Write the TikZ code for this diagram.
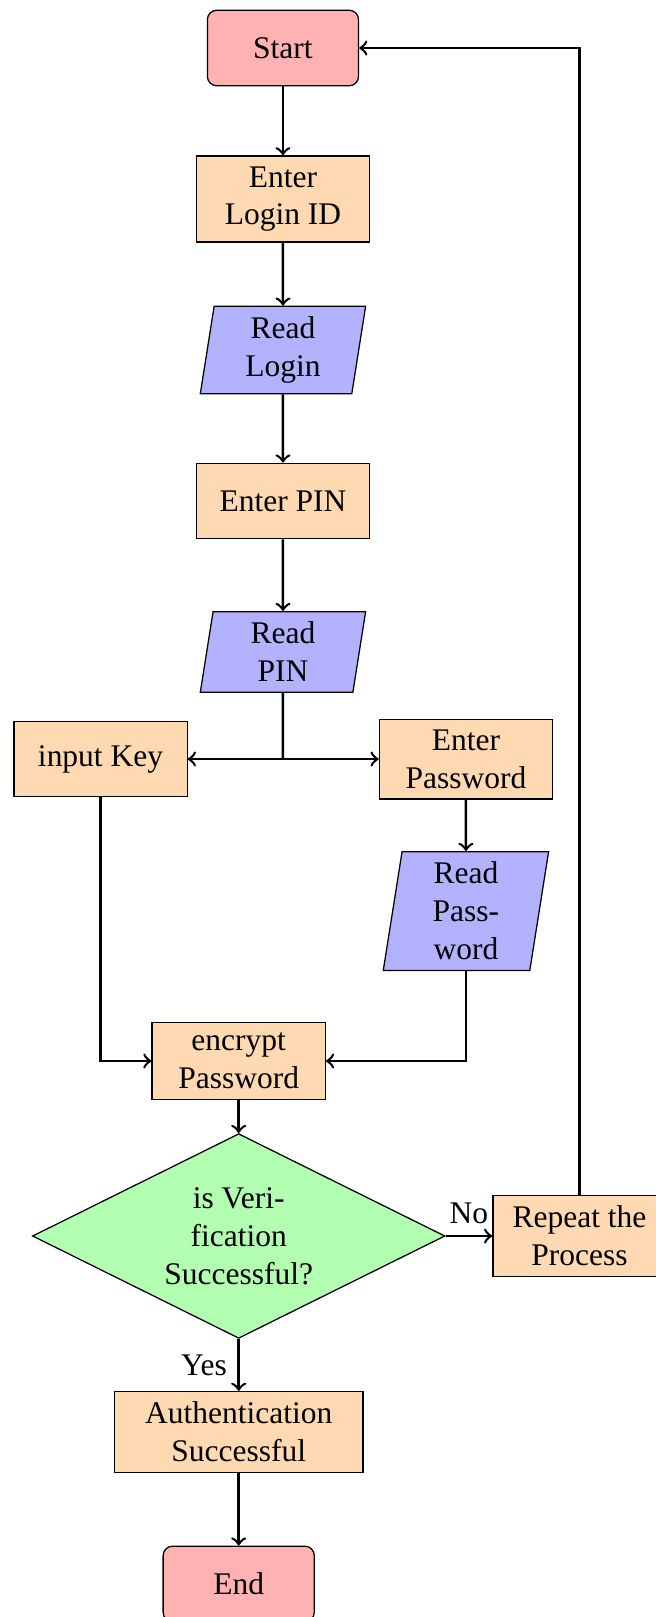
\documentclass[tikz,border=0pt]{standalone}
\usepackage{fontspec}
\setmainfont{Liberation Serif}
\usetikzlibrary{positioning, shapes.geometric}

\tikzset{
  startstop/.style={rectangle, draw, rounded corners=3pt, fill=red!30, minimum width=48pt, minimum height=24pt},
  process/.style={rectangle, draw, fill=orange!30, minimum width=55pt, minimum height=24pt},
  io/.style={trapezium, trapezium left angle=81, trapezium right angle=99, trapezium stretches body, draw, fill=blue!30, minimum width=52.5pt, minimum height=24pt},
  decision/.style={diamond, aspect=2, draw, fill=green!30, inner sep=0pt, minimum width=131pt, minimum height=65pt},
  arrow/.style={->, thick}
}

\begin{document}
\begin{tikzpicture}[node distance=1.685cm and 2.04cm, on grid, every node/.style={align=center}]

\useasboundingbox (-3.158,0.536) rectangle (4.163,-17.51);

% Main column
\node (start) [startstop] {Start};
\node (login) [process, below=of start] {Enter\\ Login ID};
\node (readlogin) [io, below=of login] {Read\\ Login};
\node (pin) [process, below=of readlogin] {Enter PIN};
\node (readpin) [io, below=of pin] {Read\\ PIN};
\coordinate [below=1.195cm of readpin] (split);

% Two branches
\node (key) [process, below left=1.195cm and 2.036cm of readpin] {input Key};
\node (pass) [process, below right=1.195cm and 2.042cm of readpin] {Enter\\ Password};
\node (readpass) [io, below=1.696cm of pass] {Read\\ Pass-\\ word};
\node (encrypt) [process, below left=3.37cm and 2.536cm of pass] {encrypt\\ Password};

% Verification
\node (verify) [decision, below=1.953cm of encrypt] {is Veri-\\ fication\\ Successful?};
\node (repeat) [process, right=3.803cm of verify] {Repeat the\\ Process};
\node (auth) [process, minimum width=79pt, below=2.187cm of verify] {Authentication\\ Successful};
\node (end) [startstop, below=1.696cm of auth] {End};

% Arrows
\draw[arrow] (start) -- (login);
\draw[arrow] (login) -- (readlogin);
\draw[arrow] (readlogin) -- (pin);
\draw[arrow] (pin) -- (readpin);
\draw[thick] (readpin) -- (split);
\draw[arrow] (split) -- (key);
\draw[arrow] (split) -- (pass);
\draw[arrow] (pass) -- (readpass);
\draw[arrow] (key) |- (encrypt);
\draw[arrow] (readpass) |- (encrypt);
\draw[arrow] (encrypt) -- (verify);
\draw[arrow] (verify) -- node[above] {No} (repeat);
\draw[arrow] (repeat) |- (start);
\draw[arrow] (verify) -- node[left] {Yes} (auth);
\draw[arrow] (auth) -- (end);

\end{tikzpicture}
\end{document}
